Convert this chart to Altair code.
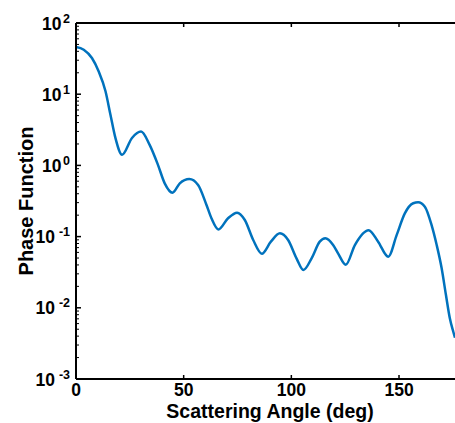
import altair as alt
import pandas as pd

# Scattering angle (deg) and phase function values
angle_deg = [0, 3.6, 7.4, 10.5, 13.7, 16.0, 18.3, 21.4, 26.0, 30.2,
             34.2, 38.1, 41.2, 44.8, 48.2, 52.6, 56.7, 60.6, 62.9, 66.1,
             70.6, 74.8, 78.4, 82.3, 86.3, 90.5, 94.7, 98.5, 102.4, 105.6,
             109.4, 113.2, 115.8, 119.4, 121.7, 125.3, 129.5, 135.9, 140.3, 145.0,
             148.9, 152.7, 156.6, 158.9, 162.0, 165.1, 167.5, 169.8, 171.8, 173.6,
             175.2, 176.0]
phase = [46.0, 42.2, 32.2, 21.0, 11.0, 5.15, 2.43, 1.41, 2.43, 2.99,
         1.94, 1.01, 0.560, 0.414, 0.560, 0.644, 0.531, 0.278, 0.181, 0.126,
         0.181, 0.217, 0.171, 0.0895, 0.0575, 0.0849, 0.111, 0.0895, 0.0495, 0.0340,
         0.0495, 0.0849, 0.0946, 0.0762, 0.0582, 0.0403, 0.0762, 0.123, 0.0849, 0.0522,
         0.105, 0.212, 0.294, 0.303, 0.263, 0.146, 0.0762, 0.0359, 0.0151, 0.00713,
         0.00461, 0.0038]

x_ticks = [0, 50, 100, 150]
x_tick_labels = ["0", "50", "100", "150"]
y_exponents = [-3, -2, -1, 0, 1, 2]
y_major = [10.0 ** e for e in y_exponents]
y_minor = [k * 10.0 ** e for e in range(-3, 2) for k in range(2, 10)]
exp_text = ["-3", "-2", "-1", "0", "1", "2"]
x_title = "Scattering Angle (deg)"
y_title = "Phase Function"

FONT = "Liberation Sans"
W, H = 379, 356

df = pd.DataFrame({"angle": angle_deg, "pf": phase})
lab = pd.DataFrame({"v": y_major, "e": y_exponents, "txt": exp_text, "ten": ["10"] * 6})
xt = pd.DataFrame({"t": x_ticks, "lbl": x_tick_labels})
one = pd.DataFrame({"xt": [x_title], "yt": [y_title]})

xs = alt.Scale(domain=[0, 176], nice=False, zero=False)
ys = alt.Scale(type="log", domain=[1e-3, 1e2], nice=False)

line = alt.Chart(df).mark_line(
    color="#0072BD", strokeWidth=2.5, interpolate="monotone", clip=True
).encode(
    x=alt.X("angle:Q", scale=xs, axis=None),
    y=alt.Y("pf:Q", scale=ys, axis=None),
)

def frame(x, x2, y, y2):
    return alt.Chart(pd.DataFrame({"a": [0]})).mark_rule(
        color="black", strokeWidth=2).encode(
        x=alt.value(x), x2=alt.value(x2), y=alt.value(y), y2=alt.value(y2))

top_border = frame(0, W, 0, 0)
bottom_border = frame(0, W, H, H)
left_border = frame(0, 0, 0, H)

x_tick_bottom = alt.Chart(xt).mark_rule(color="black", strokeWidth=1.5).encode(
    x=alt.X("t:Q", scale=xs, axis=None), y=alt.value(H), y2=alt.value(H - 4))
x_tick_top = alt.Chart(xt).mark_rule(color="black", strokeWidth=1.5).encode(
    x=alt.X("t:Q", scale=xs, axis=None), y=alt.value(0), y2=alt.value(4))

y_tick_major = alt.Chart(pd.DataFrame({"v": y_major})).mark_rule(
    color="black", strokeWidth=1.5).encode(
    y=alt.Y("v:Q", scale=ys, axis=None), x=alt.value(0), x2=alt.value(5))
y_tick_minor = alt.Chart(pd.DataFrame({"v": y_minor})).mark_rule(
    color="black", strokeWidth=1).encode(
    y=alt.Y("v:Q", scale=ys, axis=None), x=alt.value(0), x2=alt.value(3))

x_labels = alt.Chart(xt).mark_text(
    align="center", baseline="top", font=FONT, fontSize=17.5, fontWeight="bold",
    color="black").encode(
    x=alt.X("t:Q", scale=xs, axis=None), y=alt.value(H + 3), text="lbl:N")

ten_pos = alt.Chart(lab).transform_filter("datum.e >= 0").mark_text(
    align="right", baseline="middle", font=FONT, fontSize=17.5, fontWeight="bold",
    color="black", dy=1.5).encode(
    y=alt.Y("v:Q", scale=ys, axis=None), x=alt.value(-14.5), text="ten:N")
ten_neg = alt.Chart(lab).transform_filter("datum.e < 0").mark_text(
    align="right", baseline="middle", font=FONT, fontSize=17.5, fontWeight="bold",
    color="black", dy=1.5).encode(
    y=alt.Y("v:Q", scale=ys, axis=None), x=alt.value(-21), text="ten:N")
exps = alt.Chart(lab).mark_text(
    align="right", baseline="middle", font=FONT, fontSize=12.5, fontWeight="bold",
    color="black", dy=-4.5).encode(
    y=alt.Y("v:Q", scale=ys, axis=None), x=alt.value(-6), text="txt:N")

x_title_mark = alt.Chart(one).mark_text(
    align="center", baseline="alphabetic", font=FONT, fontSize=19.5,
    fontWeight="bold", color="black").encode(
    x=alt.value(194), y=alt.value(H + 39), text="xt:N")
y_title_mark = alt.Chart(one).mark_text(
    align="center", baseline="alphabetic", font=FONT, fontSize=20,
    fontWeight="bold", color="black", angle=270).encode(
    x=alt.value(-43), y=alt.value(178), text="yt:N")

chart = alt.layer(
    line, top_border, bottom_border, left_border,
    x_tick_bottom, x_tick_top, y_tick_minor, y_tick_major,
    x_labels, ten_pos, ten_neg, exps, x_title_mark, y_title_mark
).properties(
    width=W, height=H,
    autosize=alt.AutoSizeParams(type="none"),
    padding={"left": 76, "top": 23, "right": 0, "bottom": 44},
).configure_view(stroke=None)

chart.save("out.html", embed_options={"renderer": "svg", "actions": False})
